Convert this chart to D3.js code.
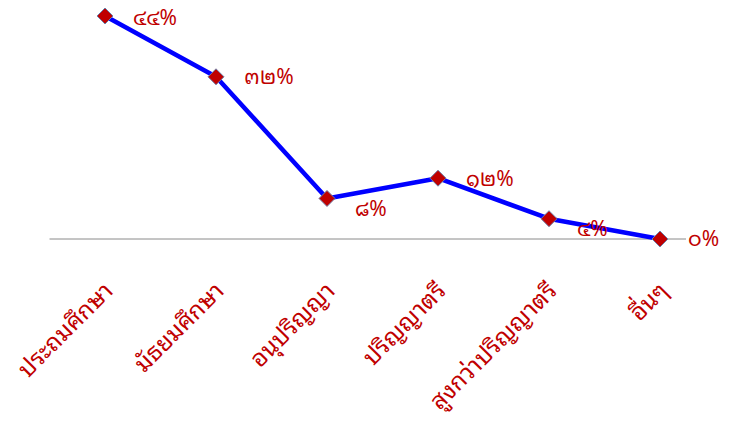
<!DOCTYPE html>
<html><head><meta charset="utf-8">
<script src="https://cdn.jsdelivr.net/npm/d3@7"></script>
<style>body{margin:0;background:#fff}svg{display:block}</style>
</head><body>
<script>
const categories = ["ประถมศึกษา","มัธยมศึกษา","อนุปริญญา","ปริญญาตรี","สูงกว่าปริญญาตรี","อื่นๆ"];
const values = [44, 32, 8, 12, 4, 0];
const valueLabels = ["๔๔%","๓๒%","๘%","๑๒%","๔%","๐%"];
const labelDy = [2, 0, 10, 0, 10, 0];

const W = 735, H = 421;
const svg = d3.select("body").append("svg").attr("width", W).attr("height", H);
const x = d3.scaleBand().domain(categories).range([49.5, 715.5]);
const y = d3.scaleLinear().domain([0, 44]).range([239, 16]);
const cx = d => x(d) + x.bandwidth() / 2;
const font = "Tahoma, 'Noto Sans Thai Looped', 'Noto Sans Thai', 'DejaVu Sans', sans-serif";
const red = "#c00000";

svg.append("line").attr("x1", 49.5).attr("x2", cx(categories[5]) + 26)
  .attr("y1", y(0)).attr("y2", y(0)).attr("stroke", "#8a8a8a").attr("stroke-width", 1);

svg.append("path").datum(values)
  .attr("d", d3.line().x((d, i) => cx(categories[i])).y(d => y(d)))
  .attr("fill", "none").attr("stroke", "#0000ff").attr("stroke-width", 4.5).attr("stroke-linejoin", "round");

svg.selectAll("path.m").data(values).join("path").attr("class", "m")
  .attr("transform", (d, i) => `translate(${cx(categories[i])},${y(d)})`)
  .attr("d", "M0,-8L8,0L0,8L-8,0Z").attr("fill", red).attr("stroke", "#6d7fa8").attr("stroke-width", 1);

svg.selectAll("text.v").data(values).join("text").attr("class", "v")
  .attr("x", (d, i) => cx(categories[i]) + 28).attr("y", (d, i) => y(d) + labelDy[i])
  .attr("dy", "0.35em").attr("fill", red).attr("font-family", font).attr("font-size", 21)
  .text((d, i) => valueLabels[i]);

svg.selectAll("text.c").data(categories).join("text").attr("class", "c")
  .attr("transform", d => `translate(${cx(d)},${283}) rotate(-45)`)
  .attr("text-anchor", "end").attr("dy", "0.55em").attr("fill", red).attr("font-family", font).attr("font-size", 24)
  .text(d => d);
</script>
</body></html>
